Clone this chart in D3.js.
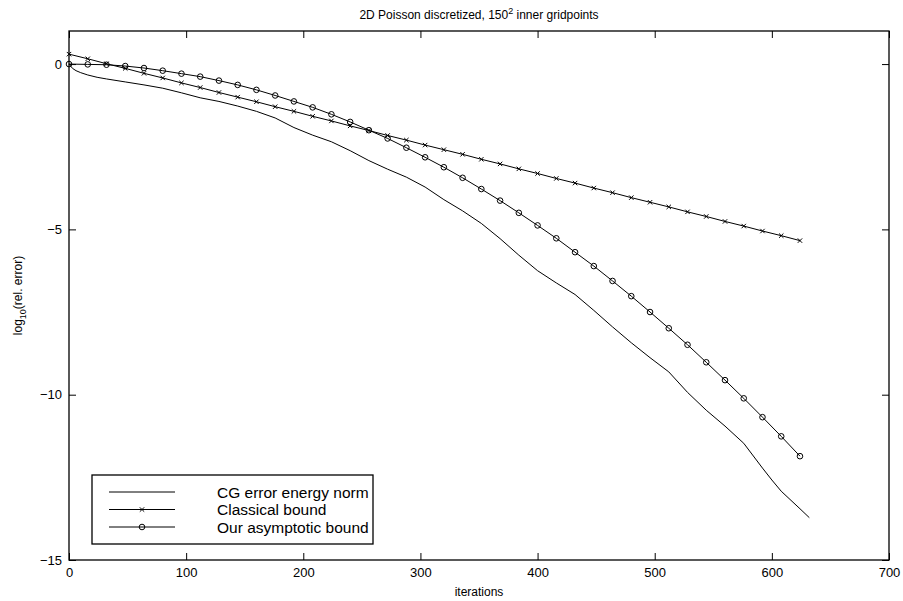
<!DOCTYPE html>
<html><head><meta charset="utf-8">
<script src="https://cdn.jsdelivr.net/npm/d3@7"></script>
<style>
body{margin:0;background:#fff}
text{font-family:"Liberation Sans",Arial,Helvetica,sans-serif;fill:#000}
</style>
</head><body>
<svg id="chart" width="903" height="601"></svg>
<script>
// ---------- data ----------
const boundIterations = [0,16,32,48,64,80,96,112,128,144,160,176,192,208,224,240,256,272,288,304,320,336,352,368,384,400,416,432,448,464,480,496,512,528,544,560,576,592,608,624];
const classicalBound = [0.30,0.16,0.01,-0.13,-0.28,-0.42,-0.57,-0.71,-0.86,-1.00,-1.14,-1.29,-1.43,-1.58,-1.72,-1.87,-2.01,-2.16,-2.30,-2.45,-2.59,-2.73,-2.88,-3.02,-3.17,-3.31,-3.46,-3.60,-3.75,-3.89,-4.04,-4.18,-4.32,-4.47,-4.61,-4.76,-4.90,-5.05,-5.19,-5.34];
const asymptoticBound = [0.00,-0.01,-0.02,-0.06,-0.12,-0.20,-0.29,-0.38,-0.50,-0.63,-0.78,-0.95,-1.13,-1.31,-1.52,-1.75,-2.00,-2.25,-2.53,-2.82,-3.12,-3.44,-3.78,-4.13,-4.50,-4.88,-5.27,-5.69,-6.11,-6.56,-7.02,-7.50,-7.99,-8.49,-9.02,-9.56,-10.11,-10.68,-11.26,-11.86];
const cgIterations = [0,3,6,10,16,24,32,48,64,80,96,112,128,144,160,176,192,208,224,240,256,272,288,304,320,336,352,368,384,400,416,432,448,464,480,496,512,528,544,560,576,592,600,608,624,632];
const cgError = [0.00,-0.13,-0.20,-0.26,-0.33,-0.40,-0.45,-0.54,-0.63,-0.73,-0.87,-1.02,-1.13,-1.27,-1.43,-1.63,-1.92,-2.15,-2.35,-2.62,-2.92,-3.18,-3.42,-3.72,-4.10,-4.44,-4.82,-5.28,-5.78,-6.25,-6.62,-6.97,-7.45,-7.95,-8.43,-8.88,-9.31,-9.93,-10.47,-10.95,-11.47,-12.22,-12.58,-12.92,-13.45,-13.72];
const xTicks = [0,100,200,300,400,500,600,700];
const yTicks = [0,-5,-10,-15];
const xDomain = [0,700];
const yDomain = [-15,1];
const legendLabels = ["CG error energy norm","Classical bound","Our asymptotic bound"];

// ---------- layout ----------
const svg = d3.select("#chart");
const L = 69, R = 889, T = 31, B = 560;
const x = d3.scaleLinear().domain(xDomain).range([L, R]);
const y = d3.scaleLinear().domain(yDomain).range([B, T]);
const fmt = d => d < 0 ? "\u2212" + Math.abs(d) : String(d);
const tick = 7;

// axes
const gx = svg.append("g").attr("transform", `translate(0,${B})`)
  .call(d3.axisBottom(x).tickValues(xTicks).tickSizeInner(-tick).tickSizeOuter(0).tickPadding(8).tickFormat(fmt));
const gy = svg.append("g").attr("transform", `translate(${L},0)`)
  .call(d3.axisLeft(y).tickValues(yTicks).tickSizeInner(-tick).tickSizeOuter(0).tickPadding(7).tickFormat(fmt));
const gxt = svg.append("g").attr("transform", `translate(0,${T})`)
  .call(d3.axisTop(x).tickValues(xTicks).tickSizeInner(-tick).tickSizeOuter(0).tickFormat(""));
const gyr = svg.append("g").attr("transform", `translate(${R},0)`)
  .call(d3.axisRight(y).tickValues(yTicks).tickSizeInner(-tick).tickSizeOuter(0).tickFormat(""));
[gx, gy, gxt, gyr].forEach(g => {
  g.select(".domain").remove();
  g.selectAll(".tick line").attr("stroke", "#000").attr("stroke-width", 1);
  g.selectAll(".tick text").attr("font-size", 13).attr("font-family", "Liberation Sans, Arial, sans-serif").attr("fill", "#000");
});
svg.append("rect").attr("x", L).attr("y", T).attr("width", R - L).attr("height", B - T)
  .attr("fill", "none").attr("stroke", "#000").attr("stroke-width", 1.3);

// lines
const lineGen = d3.line().x(d => x(d[0])).y(d => y(d[1]));
const cgData = cgIterations.map((k, i) => [k, cgError[i]]);
const clData = boundIterations.map((k, i) => [k, classicalBound[i]]);
const asData = boundIterations.map((k, i) => [k, asymptoticBound[i]]);

svg.append("path").datum(cgData).attr("d", lineGen).attr("fill", "none").attr("stroke", "#000").attr("stroke-width", 1);
svg.append("path").datum(clData).attr("d", lineGen).attr("fill", "none").attr("stroke", "#000").attr("stroke-width", 1);
svg.append("path").datum(asData).attr("d", lineGen).attr("fill", "none").attr("stroke", "#000").attr("stroke-width", 1);

const xMark = "M-2.2,-2.2L2.2,2.2M-2.2,2.2L2.2,-2.2";
svg.append("g").selectAll("path").data(clData).join("path")
  .attr("transform", d => `translate(${x(d[0])},${y(d[1])})`)
  .attr("d", xMark).attr("stroke", "#000").attr("stroke-width", 1).attr("fill", "none");
svg.append("g").selectAll("circle").data(asData).join("circle")
  .attr("cx", d => x(d[0])).attr("cy", d => y(d[1])).attr("r", 2.8)
  .attr("fill", "none").attr("stroke", "#000").attr("stroke-width", 1);

// legend
const lg = svg.append("g");
lg.append("rect").attr("x", 92).attr("y", 475).attr("width", 281).attr("height", 69)
  .attr("fill", "#fff").attr("stroke", "#000").attr("stroke-width", 1.3);
const rowsY = [492, 509.5, 527];
legendLabels.forEach((lab, i) => {
  const ry = rowsY[i];
  lg.append("line").attr("x1", 109).attr("x2", 175).attr("y1", ry).attr("y2", ry).attr("stroke", "#000").attr("stroke-width", 1);
  if (i === 1) lg.append("path").attr("transform", `translate(142,${ry})`).attr("d", xMark).attr("stroke", "#000").attr("fill", "none");
  if (i === 2) lg.append("circle").attr("cx", 142).attr("cy", ry).attr("r", 2.8).attr("fill", "none").attr("stroke", "#000");
  lg.append("text").attr("x", 217).attr("y", ry).attr("dy", "0.36em").attr("font-size", 15.5).text(lab);
});

// title
const t = svg.append("text").attr("x", (L + R) / 2).attr("y", 19).attr("text-anchor", "middle").attr("font-size", 12);
t.append("tspan").text("2D Poisson discretized, 150");
t.append("tspan").attr("dy", -5).attr("font-size", 9).text("2");
t.append("tspan").attr("dy", 5).text(" inner gridpoints");

// x label
svg.append("text").attr("x", (L + R) / 2).attr("y", 596).attr("text-anchor", "middle").attr("font-size", 12).text("iterations");

// y label
const yl = svg.append("text").attr("transform", `translate(22,${(T + B) / 2}) rotate(-90)`).attr("text-anchor", "middle").attr("font-size", 12);
yl.append("tspan").text("log");
yl.append("tspan").attr("dy", 4).attr("font-size", 9).text("10");
yl.append("tspan").attr("dy", -4).text("(rel. error)");
</script>
</body></html>
